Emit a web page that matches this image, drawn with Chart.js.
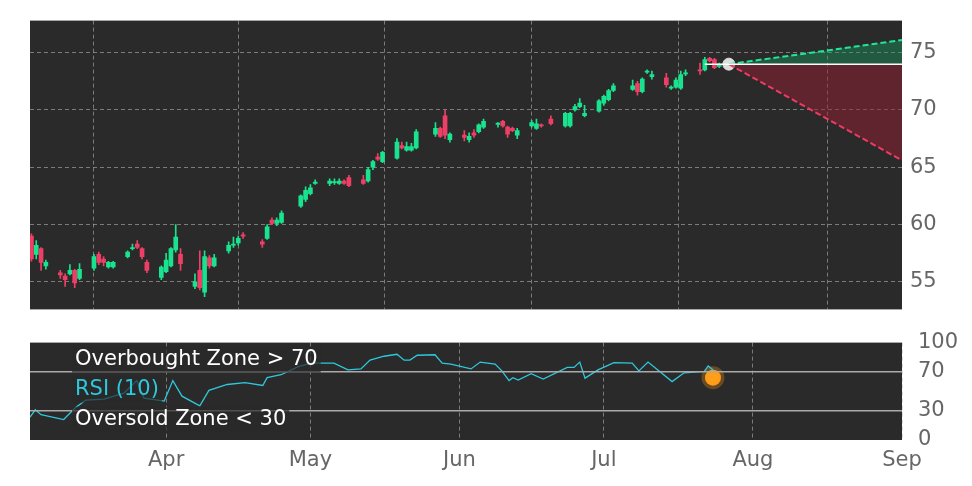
<!DOCTYPE html>
<html lang="en">
<head>
    <meta charset="UTF-8">
    <script src="https://cdn.jsdelivr.net/npm/chart.js"></script>
    <title>Price and RSI</title>
    <style>
        body { margin: 0; background: #fff; }
        #wrap { position: relative; width: 972px; height: 486px; }
        #c-price { position: absolute; left: 0; top: 0; }
        #c-rsi { position: absolute; left: 0; top: 322px; }
    </style>
</head>
<body>
    <div id="wrap">
        <canvas id="c-price" width="972" height="330"></canvas>
        <canvas id="c-rsi" width="972" height="164"></canvas>
    </div>
<script>
    // day index = days since Mar 1
    const days   = [3,4,5,6,9,10,11,12,13,16,17,18,19,20,23,24,25,26,27,30,31,32,33,34,37,38,39,40,41,44,45,46,47,51,52,53,54,55,59,60,61,62,65,66,67,68,69,72,73,74,75,76,79,80,81,82,83,87,88,89,90,93,94,95,96,97,100,101,102,103,104,107,108,109,111,114,115,116,117,118,121,122,123,124,128,129,130,131,132,135,136,137,138,139,142,143,144,145,146];
    const opens  = [59.0,57.4,57.9,56.4,55.8,55.5,55.7,56.0,55.3,56.2,57.4,57.0,56.3,56.3,57.2,57.9,58.3,57.9,56.7,55.4,55.9,56.4,57.8,57.4,54.6,56.0,54.1,57.1,56.4,57.7,58.2,58.4,59.1,58.5,58.8,60.4,60.1,60.2,61.6,62.2,62.7,63.6,63.6,63.65,63.6,63.8,64.1,63.9,63.8,65.0,65.9,65.5,65.8,66.9,66.5,66.5,66.7,67.9,68.4,69.5,67.4,67.8,67.4,68.0,68.1,68.5,68.75,69.0,68.5,68.4,67.8,68.6,68.4,68.7,69.2,68.6,68.6,70.0,70.3,69.5,69.9,70.6,70.9,71.7,71.8,72.3,71.6,73.3,72.9,72.8,71.9,72.0,71.9,73.15,73.5,73.5,74.5,74.4,73.8];
    const closes = [57.0,58.2,56.7,56.7,55.6,55.2,56.0,54.9,56.1,57.2,56.7,56.7,56.7,56.7,57.6,58.0,58.0,57.2,56.0,56.3,56.9,57.9,58.9,56.6,55.0,54.5,57.2,56.4,57.1,58.2,58.3,58.8,59.0,58.3,59.8,60.1,60.4,61.0,62.5,63.0,63.2,63.7,63.8,63.75,63.8,63.6,63.4,63.6,64.8,65.5,65.7,66.3,67.2,66.7,66.8,66.8,68.1,68.4,67.7,67.8,67.9,67.6,67.7,67.8,68.7,69.0,68.85,68.6,67.9,68.2,68.2,68.9,68.8,68.6,68.8,69.7,69.7,70.3,70.6,69.7,70.8,71.2,71.7,72.1,72.1,71.6,72.7,73.4,73.1,72.2,72.0,72.6,73.1,73.25,73.4,74.4,74.3,73.7,74.0];
    const highs  = [59.2,58.6,58.0,56.9,56.0,55.7,56.5,56.1,56.6,57.4,57.6,57.2,56.8,56.8,57.7,58.3,58.6,58.0,56.9,56.4,57.5,58.0,60.0,57.9,55.7,57.7,57.7,57.3,57.4,58.5,58.9,59.0,59.3,58.7,60.0,60.6,60.6,61.2,62.6,63.3,63.5,63.9,64.0,64.0,64.0,63.9,64.3,64.3,65.0,65.6,66.2,66.4,67.5,67.2,67.2,67.1,68.3,68.9,68.5,70.0,68.0,68.2,68.0,68.3,68.8,69.2,68.9,69.1,68.6,68.5,68.4,69.1,69.2,68.8,69.5,69.8,69.8,70.5,71.0,70.4,70.9,71.3,71.8,72.3,72.6,72.5,72.8,73.5,73.4,73.2,72.1,72.8,73.4,73.5,74.1,74.6,74.6,74.5,74.1];
    const lows   = [56.8,57.0,56.0,56.1,55.3,54.6,55.6,54.5,55.2,56.0,56.5,56.4,56.2,56.2,57.1,57.8,57.9,57.0,55.8,55.2,55.8,56.3,57.6,56.0,54.4,54.3,53.7,56.2,56.3,57.5,58.0,58.2,58.8,58.0,58.7,60.0,59.9,60.1,61.5,62.0,62.6,63.5,63.4,63.5,63.5,63.5,63.3,63.5,63.7,64.8,65.6,65.4,65.7,66.6,66.4,66.4,66.6,67.7,67.6,67.5,67.2,67.3,67.2,67.6,68.0,68.4,68.5,68.5,67.6,68.1,67.5,68.5,68.3,68.5,68.7,68.5,68.5,69.9,70.2,69.4,69.8,70.4,70.8,71.6,71.7,71.3,71.5,73.2,72.7,72.0,71.8,71.9,71.8,73.0,73.1,73.4,74.2,73.6,73.7];

    const lastDay = 148, lastClose = 74.0, endDay = 184;
    const upperTarget = 76.1, lowerTarget = 65.6;

    const rsiDays = [2.7,3.8,5.0,9.7,12.1,14.3,18.1,22.2,24.9,26.4,30.6,32.4,34.3,38.0,39.9,43.7,47.4,51.1,52.0,54.9,58.6,61.3,65.9,68.8,71.5,73.4,76.3,79.0,80.5,81.7,83.2,86.9,88.4,90.2,94.4,96.3,99.4,100.8,102.3,103.1,104.2,106.9,109.4,114.4,115.8,117.0,118.1,120.8,124.1,127.9,129.3,131.2,136.2,138.7,142.9,143.7,144.7];
    const rsiVals = [23.5,31,26,21,33,41,42,48,61,43,40,61,45,35,51,57,59,56,64,67,75.5,79,79,72,73,82,86,88,82,82,87,87.5,79,78,73,80,78,71,61,64,61.5,68,62.5,74.5,74.5,80,63.5,72,79.5,79,71,80,60,69,70.5,76,72];
    const rsiNow = 64;

    const monthTicks = [31, 61, 92, 122, 153, 184];
    const monthLabels = ['Apr', 'May', 'Jun', 'Jul', 'Aug', 'Sep'];
    const priceTicks = [55, 60, 65, 70, 75];
    const rsiTicks = [0, 30, 70, 100];

    const GREEN = '#19e38f', RED = '#ee3f66';
    const gridStyle = { color: 'rgba(190,190,190,0.55)', drawTicks: false };
    const gridBorder = { display: false, dash: [4, 3] };
    const tickFont = { family: 'DejaVu Sans', size: 21 };

    const panelBg = {
        id: 'panelBg',
        beforeDraw(chart) {
            const a = chart.chartArea, ctx = chart.ctx;
            ctx.save();
            ctx.fillStyle = '#2a2a2a';
            ctx.fillRect(a.left, a.top, a.right - a.left, a.bottom - a.top);
            ctx.restore();
        }
    };

    const colors = opens.map((o, i) => closes[i] >= o ? GREEN : RED);

    new Chart(document.getElementById('c-price'), {
        data: {
            datasets: [
                {
                    type: 'line', data: [{ x: 143, y: lastClose }, { x: endDay, y: lastClose }],
                    borderColor: '#ffffff', borderWidth: 1.5, pointRadius: 0
                },
                {
                    type: 'line', data: [{ x: lastDay, y: lastClose }, { x: endDay, y: upperTarget }],
                    borderColor: '#22e59a', borderWidth: 2, borderDash: [6, 3], pointRadius: 0,
                    fill: { value: lastClose }, backgroundColor: 'rgba(20,160,100,0.4)'
                },
                {
                    type: 'line', data: [{ x: lastDay, y: lastClose }, { x: endDay, y: lowerTarget }],
                    borderColor: '#f03a64', borderWidth: 2, borderDash: [6, 3], pointRadius: 0,
                    fill: { value: lastClose }, backgroundColor: 'rgba(150,30,50,0.5)'
                },
                {
                    type: 'bar', grouped: false, barThickness: 1,
                    data: days.map((d, i) => ({ x: d, y: [lows[i], highs[i]] })),
                    backgroundColor: colors
                },
                {
                    type: 'bar', grouped: false, barThickness: 4, minBarLength: 1,
                    data: days.map((d, i) => ({ x: d, y: [opens[i], closes[i]] })),
                    backgroundColor: colors
                },
                {
                    type: 'scatter', data: [{ x: lastDay, y: lastClose }],
                    pointRadius: 6, backgroundColor: '#dddddd', borderColor: '#dddddd'
                }
            ]
        },
        options: {
            responsive: false, animation: false,
            layout: { padding: { left: 30, top: 13, bottom: 7, right: 0 } },
            plugins: { legend: { display: false }, tooltip: { enabled: false } },
            scales: {
                x: {
                    type: 'linear', min: 2.7, max: endDay, offset: false,
                    afterBuildTicks: s => { s.ticks = monthTicks.map(v => ({ value: v })); },
                    ticks: { display: false },
                    grid: gridStyle, border: gridBorder
                },
                y: {
                    position: 'right', min: 52.6, max: 77.8,
                    afterBuildTicks: s => { s.ticks = priceTicks.map(v => ({ value: v })); },
                    afterFit: s => { s.width = 70; },
                    ticks: { color: '#666', font: tickFont, padding: 8 },
                    grid: gridStyle, border: gridBorder
                }
            }
        },
        plugins: [panelBg]
    });

    const rsiText = {
        id: 'rsiText',
        afterDatasetsDraw(chart) {
            const ctx = chart.ctx, top = chart.chartArea.top;
            const items = [
                ['Overbought Zone > 70', '#ffffff', 17],
                ['RSI (10)', '#2ec8dc', 47],
                ['Oversold Zone < 30', '#ffffff', 77]
            ];
            ctx.save();
            ctx.font = '21px DejaVu Sans';
            ctx.textBaseline = 'middle';
            items.forEach(([t, c, y]) => {
                const w = ctx.measureText(t).width;
                ctx.fillStyle = 'rgba(42,42,42,0.7)';
                ctx.fillRect(72, top + y - 13, w + 6, 26);
                ctx.fillStyle = c;
                ctx.fillText(t, 75, top + y);
            });
            ctx.restore();
        }
    };

    new Chart(document.getElementById('c-rsi'), {
        data: {
            datasets: [
                {
                    type: 'line', data: [{ x: 2.7, y: 70 }, { x: endDay, y: 70 }],
                    borderColor: '#aaaaaa', borderWidth: 1.5, pointRadius: 0
                },
                {
                    type: 'line', data: [{ x: 2.7, y: 30 }, { x: endDay, y: 30 }],
                    borderColor: '#aaaaaa', borderWidth: 1.5, pointRadius: 0
                },
                {
                    type: 'line', data: rsiDays.map((d, i) => ({ x: d, y: rsiVals[i] })),
                    borderColor: '#2ec8dc', borderWidth: 1.3, pointRadius: 0, tension: 0
                },
                {
                    type: 'scatter', data: [{ x: rsiDays[rsiDays.length - 1], y: rsiNow }],
                    pointRadius: 8, backgroundColor: '#ff9f1a',
                    borderColor: 'rgba(255,150,20,0.3)', borderWidth: 7
                }
            ]
        },
        options: {
            responsive: false, animation: false,
            layout: { padding: { left: 30, top: 9, bottom: 0, right: 0 } },
            plugins: { legend: { display: false }, tooltip: { enabled: false } },
            scales: {
                x: {
                    type: 'linear', min: 2.7, max: endDay, offset: false,
                    afterBuildTicks: s => { s.ticks = monthTicks.map(v => ({ value: v })); },
                    afterFit: s => { s.height = 46; },
                    ticks: { color: '#666', font: tickFont, maxRotation: 0, padding: 8,
                        callback: v => monthLabels[monthTicks.indexOf(v)] },
                    grid: gridStyle, border: gridBorder
                },
                y: {
                    position: 'right', min: 0, max: 100,
                    afterBuildTicks: s => { s.ticks = rsiTicks.map(v => ({ value: v })); },
                    afterFit: s => { s.width = 70; },
                    ticks: { color: '#666', font: tickFont, padding: 8 },
                    grid: { display: false }, border: { display: false }
                }
            }
        },
        plugins: [panelBg, rsiText]
    });
</script>
</body>
</html>
